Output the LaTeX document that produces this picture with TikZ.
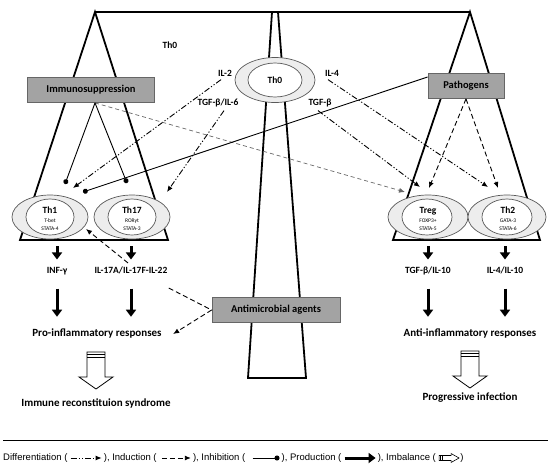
\documentclass[tikz,border=0pt]{standalone}
\usepackage{fontspec}
\setmainfont{Carlito}
\newfontfamily\legendfont{Liberation Sans}
\usetikzlibrary{shapes.geometric,positioning}
\usetikzlibrary{arrows.meta}

\definecolor{boxgray}{gray}{0.64}
\definecolor{boxline}{gray}{0.40}
\definecolor{cellgray}{gray}{0.93}
\definecolor{cellline}{gray}{0.35}

\begin{document}
\begin{tikzpicture}[x=1pt, y=-1pt,
  every node/.style={font=\bfseries\fontsize{9.5}{11}\selectfont},
  frame/.style={line width=1.8pt},
  agent/.style={draw=boxline, fill=boxgray, line width=0.8pt, rectangle, minimum height=25pt, font=\bfseries\fontsize{10.5}{12}\selectfont},
  cellout/.style={draw=cellline, fill=cellgray, ellipse, line width=0.7pt, inner sep=0pt},
  cellin/.style={draw=cellline, fill=white, ellipse, line width=0.7pt, inner sep=0pt},
  celltext/.style={align=center, inner sep=0pt, font=\fontsize{5.5}{8.5}\selectfont},
  cyto/.style={text height=7pt, text depth=2pt},
  outcome/.style={text height=8pt, text depth=2.5pt, font=\bfseries\fontsize{11}{13}\selectfont},
  diffarrow/.style={line width=0.9pt, dash pattern=on 6pt off 2pt on 1.2pt off 2pt on 1.2pt off 2pt, -{Latex[length=6pt,width=5pt]}},
  inducarrow/.style={line width=0.9pt, dash pattern=on 5pt off 3pt, -{Latex[length=6pt,width=5pt]}},
  inhibline/.style={line width=0.9pt, -{Circle[length=5pt]}},
  prodarrow/.style={line width=3pt, -{Triangle[length=7pt,width=10pt]}},
  imbal/.style={draw, line width=0.8pt, fill=white},
  legtext/.style={inner sep=0pt, font=\legendfont\fontsize{9.5}{12}\selectfont}]

\useasboundingbox (0,0) rectangle (550,467);

% the balance
\draw[frame] (95,12) -- (470,12);
\draw[frame] (272,12) -- (248,378) -- (306,378) -- (278,12);
\draw[frame] (20,240) -- (95,12) -- (168,240) -- cycle;
\draw[frame] (393,240) -- (470,12) -- (540,240) -- cycle;

% naive cell
\node[cellout, minimum width=80pt, minimum height=45pt] (th0out) at (275,80) {};
\node[cellin, minimum width=54pt, minimum height=34pt] (th0in) at (275,80) {};
\node (th0) at (275,80) {Th0};
\node (th0lab) at (170,45) {Th0};

\node (il2) at (225,73) {IL-2};
\node (il4) at (332,73) {IL-4};
\node (tgfil6) at (218,103) {TGF-β/IL-6};
\node (tgfb) at (320,103) {TGF-β};

% agents
\node[agent, minimum width=127pt] (imm) at (91,90) {Immunosuppression};
\node[agent, minimum width=76pt] (patho) at (466,86) {Pathogens};
\node[agent, minimum width=128pt] (amag) at (276,310) {Antimicrobial agents};

% effector cells
\node[cellout, minimum width=76pt, minimum height=44pt] (th1out) at (50,217) {};
\node[cellin, minimum width=48pt, minimum height=36pt] (th1in) at (50,217) {};
\node[celltext] (th1) at (50,219) {{\bfseries\fontsize{9.5}{10}\selectfont Th1}\\T-bet\\STATA-4};

\node[cellout, minimum width=76pt, minimum height=44pt] (th17out) at (132,217) {};
\node[cellin, minimum width=48pt, minimum height=36pt] (th17in) at (132,217) {};
\node[celltext] (th17) at (132,219) {{\bfseries\fontsize{9.5}{10}\selectfont Th17}\\RORγt\\STATA-3};

\node[cellout, minimum width=80pt, minimum height=44pt] (tregout) at (428,217) {};
\node[cellin, minimum width=50pt, minimum height=36pt] (tregin) at (427,217) {};
\node[celltext] (treg) at (428,219) {{\bfseries\fontsize{9.5}{10}\selectfont Treg}\\FOXP3+\\STATA-5};

\node[cellout, minimum width=78pt, minimum height=44pt] (th2out) at (507,217) {};
\node[cellin, minimum width=50pt, minimum height=36pt] (th2in) at (507,217) {};
\node[celltext] (th2) at (508,219) {{\bfseries\fontsize{9.5}{10}\selectfont Th2}\\GATA-3\\STATA-6};

% products and responses
\node[cyto] (ifng) at (57,271) {INF-γ};
\node[cyto] (il17) at (131,271) {IL-17A/IL-17F-IL-22};
\node[cyto] (tgfil10) at (428,271) {TGF-β/IL-10};
\node[cyto] (il4il10) at (505,271) {IL-4/IL-10};

\node[outcome] (pro) at (97,334) {Pro-inflammatory responses};
\node[outcome] (anti) at (470,334) {Anti-inflammatory responses};
\node[outcome] (irs) at (96,404) {Immune reconstituion syndrome};
\node[outcome] (prog) at (470,398) {Progressive infection};

% arrow ends
\coordinate (th1a) at (73,188);
\coordinate (th1b) at (65,184);
\coordinate (th1c) at (83,192);
\coordinate (th1d) at (86,229);
\coordinate (th17a) at (167,192);
\coordinate (th17b) at (127,183);
\coordinate (trega) at (420,187);
\coordinate (tregb) at (429,188);
\coordinate (tregc) at (405,192);
\coordinate (th2a) at (488,187);
\coordinate (th2b) at (498,188);

% differentiation
\draw[diffarrow] ([xshift=-4pt]il2.south) -- (th1a);
\draw[diffarrow] ([xshift=6pt]tgfil6.south) -- (th17a);
\draw[diffarrow] ([xshift=-4pt]il4.south) -- (th2a);
\draw[diffarrow] ([xshift=-2pt]tgfb.south) -- (trega);

% induction
\draw[inducarrow] (patho.south) -- (tregb);
\draw[inducarrow] (patho.south) -- (th2b);
\draw[inducarrow, draw=black!60, line width=0.7pt, dash pattern=on 4pt off 3pt] ([xshift=4pt]imm.south) -- (tregc);
\draw[inducarrow] ([xshift=-3pt]il17.north) -- (th1d);
\draw[inducarrow] ([xshift=-2pt,yshift=-9pt]il17.south east) -- (amag.west) -- ([xshift=8pt]pro.east);

% inhibition
\draw[inhibline] ([xshift=4pt]imm.south) -- (th1b);
\draw[inhibline] ([xshift=4pt]imm.south) -- (th17b);
\draw[inhibline] ([yshift=9pt]patho.west) -- (th1c);

% production
\draw[prodarrow, shorten <=7pt, shorten >=3.5pt] (th1out.south -| ifng.north) -- (ifng.north);
\draw[prodarrow, shorten <=7pt, shorten >=3.5pt] (th17out.south -| il17.north) -- (il17.north);
\draw[prodarrow, shorten <=7pt, shorten >=3.5pt] (tregout.south -| tgfil10.north) -- (tgfil10.north);
\draw[prodarrow, shorten <=7pt, shorten >=3.5pt] (th2out.south -| il4il10.north) -- (il4il10.north);
\draw[prodarrow, shorten <=9.5pt, shorten >=8.5pt] (ifng.south) -- (ifng.south |- pro.north);
\draw[prodarrow, shorten <=9.5pt, shorten >=8.5pt] (il17.south) -- (il17.south |- pro.north);
\draw[prodarrow, shorten <=9.5pt, shorten >=8.5pt] (tgfil10.south) -- (tgfil10.south |- anti.north);
\draw[prodarrow, shorten <=9.5pt, shorten >=8.5pt] (il4il10.south) -- (il4il10.south |- anti.north);

% imbalance
\coordinate (imbl) at (96,352);
\coordinate (imbr) at (470,351);
\draw[imbal, shift={(imbl)}] (-9,0) -- (9,0) -- (9,25) -- (17,25) -- (0,37) -- (-17,25) -- (-9,25) -- cycle;
\draw[line width=0.8pt, shift={(imbl)}] (-9,2.5) -- (9,2.5) (-9,5) -- (9,5);
\draw[imbal, shift={(imbr)}] (-9,0) -- (9,0) -- (9,25) -- (17,25) -- (0,37) -- (-17,25) -- (-9,25) -- cycle;
\draw[line width=0.8pt, shift={(imbr)}] (-9,2.5) -- (9,2.5) (-9,5) -- (9,5);

% legend
\draw[line width=1pt] (3,440) -- (548,440);
\node[legtext, anchor=west] (leg1) at (3,458) {Differentiation (};
\node[legtext, right=36pt of leg1] (leg2) {), Induction (};
\node[legtext, right=36pt of leg2] (leg3) {), Inhibition (};
\node[legtext, right=36pt of leg3] (leg4) {), Production (};
\node[legtext, right=36pt of leg4] (leg5) {), Imbalance (};
\node[legtext, right=24pt of leg5] (leg6) {)};

\draw[diffarrow] ([xshift=3pt]leg1.east) -- ([xshift=-2pt]leg2.west);
\draw[inducarrow] ([xshift=5pt]leg2.east) -- ([xshift=-2pt]leg3.west);
\draw[inhibline] ([xshift=7pt]leg3.east) -- ([xshift=-2pt]leg4.west);
\draw[prodarrow] ([xshift=3pt]leg4.east) -- ([xshift=-2pt]leg5.west);
\coordinate (legimb) at ([xshift=3pt]leg5.east);
\draw[imbal, line width=0.6pt, shift={(legimb)}] (0,-2.5) -- (12,-2.5) -- (12,-4.5) -- (20,0) -- (12,4.5) -- (12,2.5) -- (0,2.5) -- cycle;
\draw[line width=0.6pt, shift={(legimb)}] (1.5,-2.5) -- (1.5,2.5) (3,-2.5) -- (3,2.5);

\end{tikzpicture}
\end{document}
